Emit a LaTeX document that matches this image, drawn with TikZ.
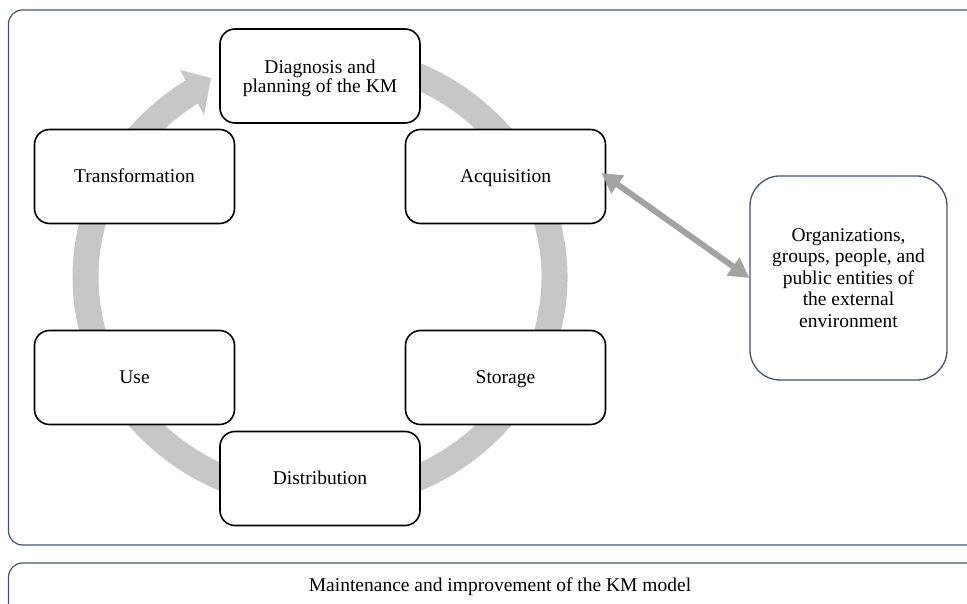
\documentclass[tikz,border=0pt]{standalone}
\usepackage{fontspec}
\setmainfont{Liberation Serif}
\usetikzlibrary{arrows.meta}
\definecolor{frameblue}{RGB}{68,84,106}
\definecolor{bandgray}{RGB}{199,199,199}
\definecolor{arrowgray}{RGB}{163,163,163}
\begin{document}
\begin{tikzpicture}[x=1pt,y=1pt,
  txt/.style={font=\fontsize{19.5}{21.6}\selectfont, align=center, inner sep=0pt},
  stepbox/.style={draw=black, line width=1.6pt, rounded corners=15pt, fill=white,
    minimum width=200pt, minimum height=94pt, txt, text height=17pt, text depth=4pt},
  extbox/.style={draw=frameblue, line width=1.3pt, rounded corners=30pt, fill=white,
    minimum width=197pt, minimum height=204pt, txt},
  framebox/.style={draw=frameblue, line width=1.2pt, rounded corners=14pt},
  band/.style={bandgray, line width=26pt},
  dblarrow/.style={arrowgray, line width=6pt,
    {Triangle[width=21pt,length=20pt]}-{Triangle[width=21pt,length=20pt]}}
]
\useasboundingbox (0,0) rectangle (967,603);
\clip (0,0) rectangle (967,603);
\fill[white] (0,0) rectangle (967,603);

% outer frames
\draw[framebox] (8.5,58) rectangle (995,593);
\draw[framebox] (8.5,-20) rectangle (995,40);
\node[txt] (maint) at (500,16) {Maintenance and improvement of the KM model};

% circular band with arrowhead
\coordinate (cc) at (320,326);
\draw[band] (cc) ++(100:234.5 and 221)
  arc[start angle=100, end angle=-237, x radius=234.5, y radius=221];
\fill[bandgray] (180,533) -- (211,525) -- (204,488) -- cycle;

% steps
\node[stepbox] (diag) at (320,527) {};
\node[txt, font=\fontsize{19.5}{19}\selectfont] (diagtext) at (320,525) {Diagnosis and\\planning of the KM};
\node[stepbox] (trans) at (134.5,426.5) {Transformation};
\node[stepbox] (acq) at (505.5,426.5) {Acquisition};
\node[stepbox] (use) at (134.5,225.5) {Use};
\node[stepbox] (stor) at (505.5,225.5) {Storage};
\node[stepbox] (dist) at (320,124.5) {Distribution};

% external environment
\node[extbox] (ext) at (848.5,325) {Organizations,\\groups, people, and\\public entities of\\the external\\environment};

\draw[dblarrow, shorten <=-6pt] (acq.east) -- (ext.west);
\end{tikzpicture}
\end{document}
